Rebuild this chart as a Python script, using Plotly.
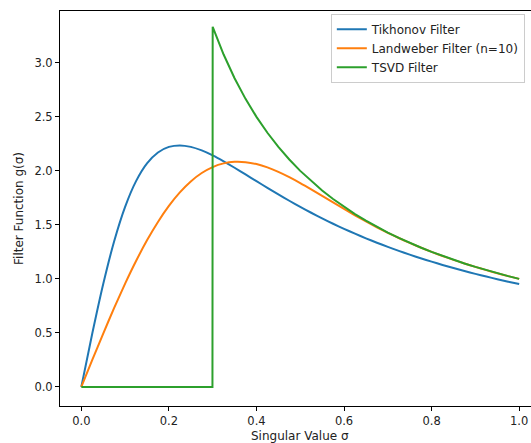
import plotly.graph_objects as go

sigma = [0.0, 0.025, 0.05, 0.075, 0.1, 0.125, 0.15, 0.175, 0.2, 0.225, 0.25, 0.275,
         0.3, 0.325, 0.35, 0.375, 0.4, 0.425, 0.45, 0.475, 0.5, 0.525, 0.55, 0.575,
         0.6, 0.625, 0.65, 0.675, 0.7, 0.725, 0.75, 0.775, 0.8, 0.825, 0.85, 0.875,
         0.9, 0.925, 0.95, 0.975, 1.0]

tikhonov = [0.0, 0.4938, 0.9524, 1.3483, 1.6667, 1.9048, 2.0690, 2.1705, 2.2222, 2.2360,
            2.2222, 2.1891, 2.1429, 2.0884, 2.0290, 1.9672, 1.9048, 1.8428, 1.7822, 1.7234,
            1.6667, 1.6123, 1.5603, 1.5107, 1.4634, 1.4184, 1.3757, 1.3350, 1.2963, 1.2595,
            1.2245, 1.1912, 1.1594, 1.1292, 1.1003, 1.0728, 1.0465, 1.0214, 0.9974, 0.9744,
            0.9524]

landweber = [0.0, 0.2493, 0.4944, 0.7313, 0.9562, 1.1656, 1.3569, 1.5274, 1.6758, 1.8008,
             1.9022, 1.9800, 2.0353, 2.0692, 2.0838, 2.0808, 2.0628, 2.0320, 1.9910, 1.9420,
             1.8874, 1.8290, 1.7686, 1.7077, 1.6474, 1.5887, 1.5321, 1.4781, 1.4269, 1.3785,
             1.3330, 1.2902, 1.2500, 1.2121, 1.1765, 1.1429, 1.1111, 1.0811, 1.0526, 1.0256,
             1.0000]

tsvd_sigma = [0.0, 0.2995, 0.3, 0.325, 0.35, 0.375, 0.4, 0.425, 0.45, 0.475, 0.5, 0.525,
              0.55, 0.575, 0.6, 0.625, 0.65, 0.675, 0.7, 0.725, 0.75, 0.775, 0.8, 0.825,
              0.85, 0.875, 0.9, 0.925, 0.95, 0.975, 1.0]
tsvd = [0.0, 0.0, 3.3333, 3.0769, 2.8571, 2.6667, 2.5, 2.3529, 2.2222, 2.1053, 2.0, 1.9048,
        1.8182, 1.7391, 1.6667, 1.6, 1.5385, 1.4815, 1.4286, 1.3793, 1.3333, 1.2903, 1.25,
        1.2121, 1.1765, 1.1429, 1.1111, 1.0811, 1.0526, 1.0256, 1.0]

x_ticks = [0.0, 0.2, 0.4, 0.6, 0.8, 1.0]
y_ticks = [0.0, 0.5, 1.0, 1.5, 2.0, 2.5, 3.0]

FONT = "DejaVu Sans"

fig = go.Figure()
fig.add_trace(go.Scatter(x=sigma, y=tikhonov, mode="lines", name="Tikhonov Filter",
                         line=dict(color="#1f77b4", width=2, shape="spline", smoothing=0.6)))
fig.add_trace(go.Scatter(x=sigma, y=landweber, mode="lines", name="Landweber Filter (n=10)",
                         line=dict(color="#ff7f0e", width=2, shape="spline", smoothing=0.6)))
fig.add_trace(go.Scatter(x=tsvd_sigma, y=tsvd, mode="lines", name="TSVD Filter",
                         line=dict(color="#2ca02c", width=2)))

axis_common = dict(
    showgrid=False, zeroline=False, showline=True, linecolor="black", linewidth=1,
    ticks="outside", ticklen=4, tickwidth=1, tickcolor="black",
    tickfont=dict(family=FONT, size=11.5, color="#222"),
)

fig.update_layout(
    width=531, height=443,
    margin=dict(l=60, r=0, t=11, b=37, autoexpand=False),
    paper_bgcolor="white", plot_bgcolor="white",
    font=dict(family=FONT, size=12, color="#222"),
    xaxis=dict(range=[-0.0487, 1.027], tickvals=x_ticks, ticktext=[f"{v:.1f}" for v in x_ticks],
               mirror=True, **axis_common),
    yaxis=dict(range=[-0.1767, 3.48], tickvals=y_ticks, ticktext=[f"{v:.1f}" for v in y_ticks],
               title=dict(text="Filter Function g(σ)", standoff=8,
                          font=dict(family=FONT, size=12, color="#222")),
               **axis_common),
    legend=dict(x=0.575, y=0.993, xanchor="left", yanchor="top",
                bgcolor="rgba(255,255,255,0.8)", bordercolor="#cccccc", borderwidth=1,
                font=dict(family=FONT, size=12, color="#222"), tracegroupgap=0),
    showlegend=True,
    annotations=[dict(text="Singular Value σ", xref="paper", yref="paper", x=0.51, y=0,
                      xanchor="center", yanchor="top", yshift=-21, showarrow=False,
                      font=dict(family=FONT, size=12, color="#222"))],
)

fig.write_html("out.html")
